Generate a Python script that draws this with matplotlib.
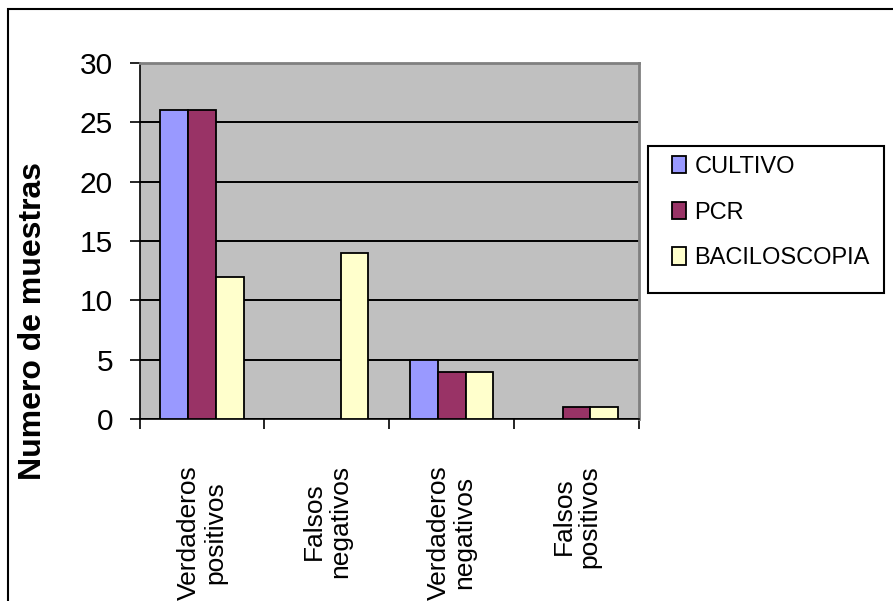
import numpy as np
import matplotlib
matplotlib.use("Agg")
import matplotlib.pyplot as plt
from matplotlib.patches import Rectangle

categorias = ["Verdaderos\npositivos", "Falsos\nnegativos",
              "Verdaderos\nnegativos", "Falsos\npositivos"]
series = ["CULTIVO", "PCR", "BACILOSCOPIA"]
cultivo = [26, 0, 5, 0]
pcr = [26, 0, 4, 1]
baciloscopia = [12, 14, 4, 1]
colores = ["#9999FF", "#993366", "#FFFFCC"]

plt.rcParams["font.family"] = ["Liberation Sans", "DejaVu Sans"]

fig = plt.figure(figsize=(8.93, 6.01), dpi=100)
ax = fig.add_axes([139.5/893, 1 - 419/601, 499.5/893, 356/601])

x = np.arange(len(categorias))
w = 0.222
barras = []
for i, (datos, color) in enumerate(zip([cultivo, pcr, baciloscopia], colores)):
    b = ax.bar(x + (i - 1) * w, datos, w, color=color, edgecolor="black",
               linewidth=1.3, zorder=3)
    barras.append(b)

ax.set_facecolor("#C0C0C0")
ax.set_xlim(-0.5, 3.5)
ax.set_ylim(0, 30)
ax.set_yticks(np.arange(0, 31, 5))
ax.yaxis.grid(True, color="black", linewidth=1.4)
ax.set_axisbelow(True)

for lado in ["top", "right"]:
    ax.spines[lado].set_color("#808080")
    ax.spines[lado].set_linewidth(2)
for lado in ["left", "bottom"]:
    ax.spines[lado].set_color("black")
    ax.spines[lado].set_linewidth(1.2)

ax.tick_params(axis="y", direction="out", length=7, width=1.2, pad=12, labelsize=21.5)
ax.set_xticks(np.arange(-0.5, 4, 1))
ax.set_xticklabels([])
ax.tick_params(axis="x", which="major", direction="out", length=7, width=1.2)
ax.set_xticks(x, minor=True)
ax.set_xticklabels(categorias, minor=True, rotation=90, va="top", ha="center",
                   multialignment="center", linespacing=1.1, fontsize=19)
ax.tick_params(axis="x", which="minor", length=0, pad=33)

fig.text(33/893, 1 - 321/601, "Numero de muestras", rotation=90,
         ha="center", va="center", fontsize=23, fontweight="bold")

# cuadro de la leyenda
caja = Rectangle((648/893, 1 - 293/601), 236/893, 147/601, transform=fig.transFigure,
                 facecolor="white", edgecolor="black", linewidth=1.5)
fig.add_artist(caja)

leg = fig.legend(barras, series, loc="upper left",
                 bbox_to_anchor=(672/893, 1 - 156/601), bbox_transform=fig.transFigure,
                 borderaxespad=0, borderpad=0, frameon=False,
                 fontsize=17, handlelength=0.6, handleheight=0.75,
                 handletextpad=0.35, labelspacing=1.0)

# marco exterior del gráfico
marco = Rectangle((8/893, -0.5), 1.0, 1.5 - 9/601, transform=fig.transFigure,
                  fill=False, edgecolor="black", linewidth=1.5)
fig.add_artist(marco)

fig.savefig("out.png", dpi=100)
